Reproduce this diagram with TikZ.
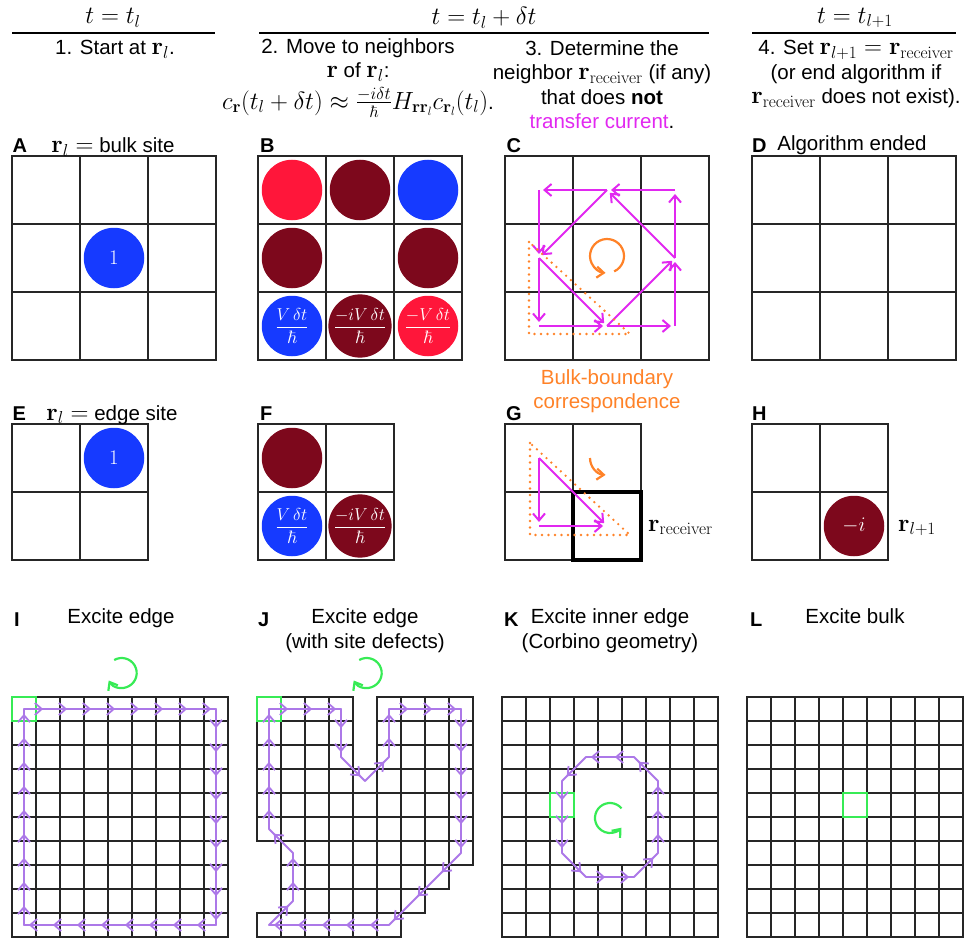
\documentclass[tikz,border=0pt]{standalone}
\usepackage{amsmath,amssymb}
\usepackage[no-math]{fontspec}
\setmainfont{Liberation Sans}
\usetikzlibrary{arrows.meta,decorations.markings,positioning}
\DeclareMathSizes{20.5}{23.5}{16.5}{12}

\definecolor{siteblue}{RGB}{22,58,255}
\definecolor{sitered}{RGB}{255,22,58}
\definecolor{sitedark}{RGB}{125,8,28}
\definecolor{hopmag}{RGB}{225,40,240}
\definecolor{bbcorange}{RGB}{255,130,40}
\definecolor{edgepurple}{RGB}{172,120,232}
\definecolor{spingreen}{RGB}{55,235,85}

\begin{document}
\begin{tikzpicture}[x=1pt, y=-1pt,
  txt/.style={font=\fontsize{20.5}{24.5}\selectfont, inner sep=0pt},
  caption/.style={txt, align=center, anchor=north},
  lab/.style={font=\fontsize{20}{22}\selectfont\bfseries, anchor=base west, inner sep=0pt},
  cell/.style={draw=black!85, line width=1.6pt},
  hdrule/.style={line width=1.8pt},
  pick/.style={draw=spingreen, line width=2pt},
  site/.style={circle, minimum size=60.5pt, inner sep=0pt, text=white,
    font=\fontsize{22}{24}\selectfont},
  fracsite/.style={font=\fontsize{18}{20}\selectfont},
  hop/.style={draw=hopmag, line width=2pt, shorten >=4pt,
    -{Straight Barb[length=7pt,width=12pt]}},
  bbc/.style={draw=bbcorange, line width=2.6pt, line cap=round,
    dash pattern=on 0pt off 6.5pt},
  swirl/.style={line width=2.2pt, -{Straight Barb[length=7pt,width=11pt]}},
  flow/.style={draw, color=edgepurple, line width=1.8pt, line cap=round,
    postaction={decorate}, decoration={markings,
      mark=at position 0.8 with {\arrow{Straight Barb[length=7pt,width=12pt]}}}},
]
\useasboundingbox (0,0) rectangle (967,939);

% time headers
\node[txt] (h1) at (113,18) {$t=t_l$};
\node[txt] (h2) at (484,18) {$t=t_l+\delta t$};
\node[txt] (h3) at (855,18) {$t=t_{l+1}$};
\draw[hdrule] (12,33) -- (215,33);
\draw[hdrule] (259,33) -- (709,33);
\draw[hdrule] (752,33) -- (956,33);

% algorithm steps
\node[caption] (s1) at (115,40) {1. Start at $\mathbf{r}_l$.};
\node[caption] (s2) at (358,38) {2. Move to neighbors\\ $\mathbf{r}$ of $\mathbf{r}_l$:\\[5pt]
  $c_{\mathbf{r}}(t_l+\delta t)\approx\frac{-i\delta t}{\hbar}H_{\mathbf{r}\mathbf{r}_l}c_{\mathbf{r}_l}(t_l)$.};
\node[caption] (s3) at (602,40) {3. Determine the\\ neighbor $\mathbf{r}_\mathrm{receiver}$ (if any)\\
  that does \textbf{not}\\ \textcolor{hopmag}{transfer current}.};
\node[caption] (s4) at (856,40) {4. Set $\mathbf{r}_{l+1}=\mathbf{r}_\mathrm{receiver}$\\
  (or end algorithm if\\ $\mathbf{r}_\mathrm{receiver}$ does not exist).};

% small lattices A--H
\foreach \p/\gx/\gy/\n in {A/12/156/3, B/258/156/3, C/505/156/3, D/752/156/3,
    E/12/424/2, F/258/424/2, G/505/424/2, H/752/424/2} {
  \pgfmathtruncatemacro\m{\n-1}
  \foreach \c in {0,...,\m} \foreach \r in {0,...,\m} {
    \draw[cell] (\gx+\c*68, \gy+\r*68) rectangle ++(68,68);
    \coordinate (\p-\c-\r) at (\gx+\c*68+34, \gy+\r*68+34);
  }
}

\node[lab] (la) at (12.5,152.5) {A};
\node[txt, anchor=base] (ta) at (113,152.5) {$\mathbf{r}_l=$ bulk site};
\node[lab] (lb) at (260,152.5) {B};
\node[lab] (lc) at (506.5,152.5) {C};
\node[lab] (ld) at (752,152.5) {D};
\node[txt, anchor=base] (td) at (852,151) {Algorithm ended};
\node[lab] (le) at (12.5,420) {E};
\node[txt, anchor=base] (te) at (112,420) {$\mathbf{r}_l=$ edge site};
\node[lab] (lf) at (260,420) {F};
\node[lab] (lg) at (506,420) {G};
\node[lab] (lh) at (752,420) {H};
\node[caption, text=bbcorange] (bb) at (607,369) {Bulk-boundary\\correspondence};

% amplitudes
\node[site, fill=siteblue] (a11) at (A-1-1) {$1$};
\node[site, fill=sitered] (b00) at (B-0-0) {};
\node[site, fill=sitedark] (b10) at (B-1-0) {};
\node[site, fill=siteblue] (b20) at (B-2-0) {};
\node[site, fill=sitedark] (b01) at (B-0-1) {};
\node[site, fill=sitedark] (b21) at (B-2-1) {};
\node[site, fracsite, fill=siteblue] (b02) at (B-0-2) {$\dfrac{V\,\delta t}{\hbar}$};
\node[site, fracsite, fill=sitedark] (b12) at (B-1-2) {$\dfrac{-iV\,\delta t}{\hbar}$};
\node[site, fracsite, fill=sitered] (b22) at (B-2-2) {$\dfrac{-V\,\delta t}{\hbar}$};
\node[site, fill=siteblue] (e10) at (E-1-0) {$1$};
\node[site, fill=sitedark] (f00) at (F-0-0) {};
\node[site, fracsite, fill=siteblue] (f01) at (F-0-1) {$\dfrac{V\,\delta t}{\hbar}$};
\node[site, fracsite, fill=sitedark] (f11) at (F-1-1) {$\dfrac{-iV\,\delta t}{\hbar}$};
\node[site, fill=sitedark] (h11) at (H-1-1) {$-i$};

% current between neighbors
\foreach \a/\b in {2-0/1-0, 1-0/0-0, 0-0/0-1, 0-1/0-2, 0-2/1-2, 1-2/2-2, 2-2/2-1, 2-1/2-0,
    1-0/0-1, 0-1/1-2, 1-2/2-1, 2-1/1-0}
  \draw[hop] (C-\a) -- (C-\b);
\draw[bbc] (529,242) -- (529,334) -- (630,334) -- cycle;
\draw[swirl, bbcorange] (607,256) ++(-65:17pt) arc[start angle=-65, end angle=265, radius=17pt];

\draw[line width=3.6pt] (573,492) rectangle (641,560);
\draw[bbc] (530,443) -- (530,535) -- (630,535) -- cycle;
\foreach \a/\b in {0-0/0-1, 0-1/1-1, 0-0/1-1}
  \draw[hop] (G-\a) -- (G-\b);
\draw[swirl, bbcorange] (590,458) arc[start angle=180, end angle=265, radius=17pt];
\node[txt, anchor=base west] (recv) at (648,531) {$\mathbf{r}_\mathrm{receiver}$};
\node[txt, anchor=base west] (next) at (898,531) {$\mathbf{r}_{l+1}$};

% large lattices I--L
\def\sm{24}
\foreach \p/\gx in {I/12, L/747}
  \foreach \c in {0,...,8} \foreach \r in {0,...,9} {
    \draw[cell] (\gx+\c*\sm, 697+\r*\sm) rectangle ++(\sm,\sm);
    \coordinate (\p-\c-\r) at (\gx+\c*\sm+\sm/2, 697+\r*\sm+\sm/2);
  }
\foreach \r/\cl in {0/{0,1,2,3,5,6,7,8}, 1/{0,1,2,3,5,6,7,8}, 2/{0,1,2,3,5,6,7,8},
    3/{0,...,8}, 4/{0,...,8}, 5/{0,...,8}, 6/{1,...,8}, 7/{1,...,7}, 8/{1,...,6}, 9/{0,...,5}}
  \foreach \c in \cl {
    \draw[cell] (257+\c*\sm, 697+\r*\sm) rectangle ++(\sm,\sm);
    \coordinate (J-\c-\r) at (257+\c*\sm+\sm/2, 697+\r*\sm+\sm/2);
  }
\foreach \c in {0,...,8} \foreach \r in {0,...,9} {
  \pgfmathtruncatemacro\hole{(\c>2)&&(\c<6)&&(\r>2)&&(\r<7)}
  \ifnum\hole=0 \draw[cell] (502+\c*\sm, 697+\r*\sm) rectangle ++(\sm,\sm); \fi
  \coordinate (K-\c-\r) at (502+\c*\sm+\sm/2, 697+\r*\sm+\sm/2);
}

\draw[pick] (12,697) rectangle ++(\sm,\sm);
\draw[pick] (257,697) rectangle ++(\sm,\sm);
\draw[pick] (550,793) rectangle ++(\sm,\sm);
\draw[pick] (843,793) rectangle ++(\sm,\sm);

% edge currents
\foreach \c [evaluate=\c as \n using int(\c+1)] in {0,...,7} {
  \draw[flow] (I-\c-0) -- (I-\n-0);
  \draw[flow] (I-\n-9) -- (I-\c-9);
}
\foreach \r [evaluate=\r as \n using int(\r+1)] in {0,...,8} {
  \draw[flow] (I-8-\r) -- (I-8-\n);
  \draw[flow] (I-0-\n) -- (I-0-\r);
}
\foreach \a/\b in {0-0/1-0, 1-0/2-0, 2-0/3-0, 3-0/3-1, 3-1/3-2, 3-2/4-3, 4-3/5-2, 5-2/5-1,
    5-1/5-0, 5-0/6-0, 6-0/7-0, 7-0/8-0, 8-0/8-1, 8-1/8-2, 8-2/8-3, 8-3/8-4, 8-4/8-5,
    8-5/8-6, 8-6/7-7, 7-7/6-8, 6-8/5-9, 5-9/4-9, 4-9/3-9, 3-9/2-9, 2-9/1-9, 1-9/0-9,
    0-9/1-8, 1-8/1-7, 1-7/1-6, 1-6/0-5, 0-5/0-4, 0-4/0-3, 0-3/0-2, 0-2/0-1, 0-1/0-0}
  \draw[flow] (J-\a) -- (J-\b);
\foreach \a/\b in {5-2/4-2, 4-2/3-2, 3-2/2-3, 2-3/2-4, 2-4/2-5, 2-5/2-6, 2-6/3-7,
    3-7/4-7, 4-7/5-7, 5-7/6-6, 6-6/6-5, 6-5/6-4, 6-4/6-3, 6-3/5-2}
  \draw[flow] (K-\a) -- (K-\b);

\draw[swirl, spingreen] (121.7,673) ++(120:15pt) arc[start angle=120, end angle=-150, radius=15pt];
\draw[swirl, spingreen] (366.7,673) ++(120:15pt) arc[start angle=120, end angle=-150, radius=15pt];
\draw[swirl, spingreen] (610,818) ++(40:15pt) arc[start angle=40, end angle=320, radius=15pt];

\node[lab] (li) at (14,626) {I};
\node[txt, anchor=base] (ti) at (121,623) {Excite edge};
\node[lab] (lj) at (258,626) {J};
\node[txt, anchor=base] (tj) at (365,623) {Excite edge};
\node[txt, anchor=base] (tj2) at (365,648) {(with site defects)};
\node[lab] (lk) at (504,626) {K};
\node[txt, anchor=base] (tk) at (610,623) {Excite inner edge};
\node[txt, anchor=base] (tk2) at (610,648) {(Corbino geometry)};
\node[lab] (ll) at (750,626) {L};
\node[txt, anchor=base] (tl) at (855,623) {Excite bulk};
\end{tikzpicture}
\end{document}
